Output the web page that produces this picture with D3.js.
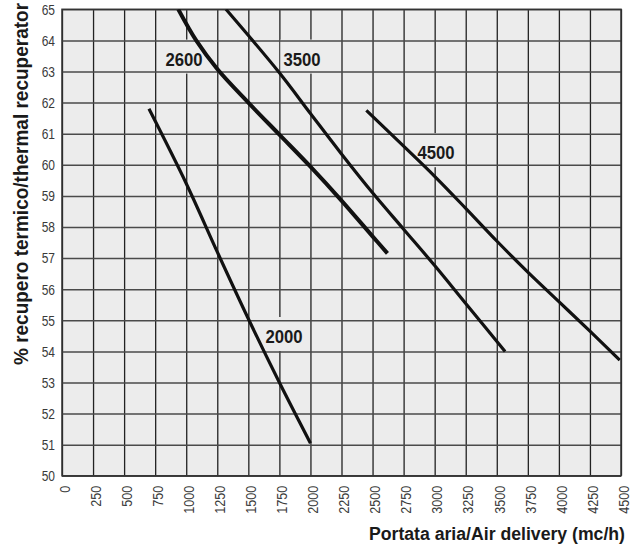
<!DOCTYPE html>
<html>
<head>
<meta charset="utf-8">
<script src="https://cdn.jsdelivr.net/npm/d3@7"></script>
<style>
  html, body { margin: 0; padding: 0; background: #fff; }
  svg { display: block; font-family: "Liberation Sans", Arial, Helvetica, sans-serif; }
</style>
</head>
<body>
<svg id="chart" width="634" height="550"></svg>
<script>
// ---- data ----
const xTicks = [0,250,500,750,1000,1250,1500,1750,2000,2250,2500,2750,3000,3250,3500,3750,4000,4250,4500];
const yTicks = [50,51,52,53,54,55,56,57,58,59,60,61,62,63,64,65];

const seriesNames = ["2000", "2600", "3500", "4500"];

const flow2000 = [700, 1000, 1250, 1500, 1750, 2000];
const eff2000  = [61.8, 59.4, 57.2, 55.05, 53.0, 51.05];

const flow2600 = [936, 1080, 1250, 1500, 1750, 2000, 2250, 2500, 2620];
const eff2600  = [65.0, 64.0, 63.08, 62.0, 60.97, 59.94, 58.85, 57.7, 57.15];

const flow3500 = [1320, 1750, 2000, 2250, 2500, 2750, 3000, 3250, 3567];
const eff3500  = [65.0, 62.96, 61.65, 60.35, 59.1, 57.93, 56.76, 55.54, 54.0];

const flow4500 = [2450, 2750, 3000, 3250, 3500, 3750, 4000, 4250, 4490];
const eff4500  = [61.75, 60.6, 59.63, 58.6, 57.55, 56.55, 55.6, 54.65, 53.72];

// label anchor (centre x, baseline y) in data units
const labelFlow = [1787, 982, 1932, 3011];
const labelEff  = [54.27, 63.19, 63.19, 60.18];

const xTitle = "Portata aria/Air delivery (mc/h)";
const yTitle = "% recupero termico/thermal recuperator";

// ---- layout ----
const svg = d3.select("#chart");
const pL = 62, pR = 621, pT = 9.3, pB = 475.8;
const x = d3.scaleLinear().domain([0, 4500]).range([pL, pR]);
const y = d3.scaleLinear().domain([50, 65]).range([pB, pT]);

const series = [
  {name: seriesNames[0], flow: flow2000, eff: eff2000, w: 3.2},
  {name: seriesNames[1], flow: flow2600, eff: eff2600, w: 4.0},
  {name: seriesNames[2], flow: flow3500, eff: eff3500, w: 3.2},
  {name: seriesNames[3], flow: flow4500, eff: eff4500, w: 3.2}
];

function condense(sel, f) {
  sel.each(function() {
    const len = this.getComputedTextLength();
    d3.select(this).attr("textLength", len * f).attr("lengthAdjust", "spacingAndGlyphs");
  });
}

// plot background
svg.append("rect")
  .attr("x", pL).attr("y", pT)
  .attr("width", pR - pL).attr("height", pB - pT)
  .attr("fill", "#ececec");

// vertical grid
const vg = svg.append("g")
  .attr("transform", `translate(0,${pB})`)
  .call(d3.axisBottom(x).tickValues(xTicks).tickSize(-(pB - pT)).tickFormat(""));
vg.select(".domain").remove();
vg.selectAll("line").attr("stroke", "#222").attr("stroke-width", 1.3);

// label backgrounds group (filled after measuring labels)
const bgG = svg.append("g");

// horizontal grid
const hg = svg.append("g")
  .attr("transform", `translate(${pL},0)`)
  .call(d3.axisLeft(y).tickValues(yTicks).tickSize(-(pR - pL)).tickFormat(""));
hg.select(".domain").remove();
hg.selectAll("line").attr("stroke", "#4a4a4a").attr("stroke-width", 1.5);

// frame
svg.append("rect")
  .attr("x", pL).attr("y", pT)
  .attr("width", pR - pL).attr("height", pB - pT)
  .attr("fill", "none").attr("stroke", "#333").attr("stroke-width", 1.5);

// curves
svg.append("clipPath").attr("id", "clip")
  .append("rect").attr("x", pL).attr("y", pT)
  .attr("width", pR - pL).attr("height", pB - pT);

const line = d3.line().curve(d3.curveCatmullRom.alpha(0.5));
svg.append("g").attr("clip-path", "url(#clip)")
  .selectAll("path").data(series).join("path")
  .attr("d", d => line(d.flow.map((f, i) => [x(f), y(d.eff[i])])))
  .attr("fill", "none").attr("stroke", "#111")
  .attr("stroke-width", d => d.w)
  .attr("stroke-linecap", "butt").attr("stroke-linejoin", "round");

// curve labels
const labels = svg.append("g").selectAll("text").data(series).join("text")
  .attr("x", (d, i) => x(labelFlow[i]))
  .attr("y", (d, i) => y(labelEff[i]))
  .attr("text-anchor", "middle")
  .attr("font-size", 19).attr("font-weight", "bold")
  .attr("fill", "#1a1a1a")
  .text(d => d.name);
condense(labels, 0.88);
labels.each(function(d, i) {
  const w = +d3.select(this).attr("textLength");
  const cx = x(labelFlow[i]), by = y(labelEff[i]);
  bgG.append("rect")
    .attr("x", cx - w / 2 - 3).attr("y", by - 26)
    .attr("width", w + 6).attr("height", 34)
    .attr("fill", "#ececec");
});

// y axis labels
const ya = svg.append("g")
  .attr("transform", `translate(${pL},0)`)
  .call(d3.axisLeft(y).tickValues(yTicks).tickSize(0).tickPadding(7).tickFormat(d3.format("d")));
ya.select(".domain").remove();
ya.selectAll("text")
  .attr("font-family", "'Liberation Sans', Arial, sans-serif")
  .attr("font-size", 15).attr("fill", "#3a3a3a");
condense(ya.selectAll("text"), 0.8);

// x axis labels
const xa = svg.append("g")
  .attr("transform", `translate(0,${pB})`)
  .call(d3.axisBottom(x).tickValues(xTicks).tickSize(0).tickFormat(d3.format("d")));
xa.select(".domain").remove();
xa.selectAll("text")
  .attr("font-family", "'Liberation Sans', Arial, sans-serif")
  .attr("font-size", 15).attr("fill", "#3a3a3a")
  .attr("transform", "rotate(-90)")
  .attr("text-anchor", "end")
  .attr("x", -10).attr("y", 2).attr("dy", "0.35em");
condense(xa.selectAll("text"), 0.84);

// titles
svg.append("text")
  .attr("transform", "translate(625,540) scale(0.93,1)")
  .attr("text-anchor", "end")
  .attr("font-size", 19).attr("font-weight", "bold").attr("fill", "#1a1a1a")
  .text(xTitle);

svg.append("text")
  .attr("transform", "translate(28,184) rotate(-90) scale(0.95,1)")
  .attr("text-anchor", "middle")
  .attr("font-size", 20).attr("font-weight", "bold").attr("fill", "#1a1a1a")
  .text(yTitle);
</script>
</body>
</html>
